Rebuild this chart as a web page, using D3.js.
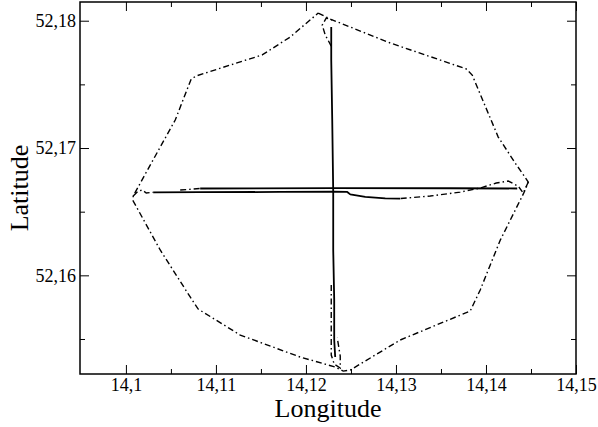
<!DOCTYPE html>
<html>
<head>
<meta charset="utf-8">
<script src="https://cdn.jsdelivr.net/npm/d3@7"></script>
<style>
  body { margin: 0; background: #fff; }
</style>
</head>
<body>
<div id="chart"></div>
<script>
// flight track around the site (dash-dot), [longitude, latitude]
const trackOctagon = [
  [14.12136, 52.18060], [14.12270, 52.18013], [14.12936, 52.17825], [14.13492, 52.17691],
  [14.13781, 52.17621], [14.13847, 52.17573], [14.14136, 52.17086], [14.14325, 52.16882],
  [14.14470, 52.16733], [14.14425, 52.16654], [14.14159, 52.16277], [14.13936, 52.15885],
  [14.13825, 52.15720], [14.13047, 52.15492], [14.12492, 52.15256], [14.12414, 52.15248],
  [14.12325, 52.15280], [14.11937, 52.15358], [14.11270, 52.15531], [14.10803, 52.15735],
  [14.10714, 52.15830], [14.10381, 52.16199], [14.10081, 52.16584], [14.10081, 52.16623],
  [14.10270, 52.16866], [14.10548, 52.17220], [14.10725, 52.17542], [14.10781, 52.17566],
  [14.11159, 52.17652], [14.11514, 52.17731], [14.11825, 52.17872], [14.12136, 52.18060]
];
const loopTop = [
  [14.12281, 52.17801], [14.12214, 52.17888], [14.12181, 52.17966], [14.12225, 52.18021], [14.12292, 52.18005]
];
const loopBottom = [
  [14.12281, 52.15924], [14.12281, 52.15374], [14.12314, 52.15303], [14.12381, 52.15272],
  [14.12381, 52.15366], [14.12348, 52.15508]
];
const loopRight = [
  [14.14470, 52.16733], [14.14414, 52.16647], [14.14359, 52.16700], [14.14247, 52.16741],
  [14.14114, 52.16725], [14.13936, 52.16686], [14.13714, 52.16654], [14.13381, 52.16623],
  [14.13047, 52.16603]
];
const loopLeft = [
  [14.10081, 52.16623], [14.10137, 52.16662], [14.10181, 52.16670], [14.10226, 52.16647], [14.10303, 52.16652]
];
const leadIn = [[14.10603, 52.16670], [14.10825, 52.16682]];

// measurement lines (solid)
const lineNS = [
  [14.12281, 52.17950], [14.12281, 52.17691], [14.12292, 52.17220], [14.12303, 52.16654],
  [14.12303, 52.16199], [14.12314, 52.15806], [14.12314, 52.15492], [14.12325, 52.15358]
];
const lineEW1 = [
  [14.10825, 52.16682], [14.12303, 52.16685], [14.13603, 52.16684], [14.14347, 52.16682]
];
const lineEW2 = [
  [14.10303, 52.16652], [14.10825, 52.16653], [14.11714, 52.16655], [14.12303, 52.16657],
  [14.12459, 52.16655], [14.12492, 52.16636], [14.12659, 52.16617], [14.12881, 52.16605],
  [14.13047, 52.16603]
];

const xMajor = [14.10, 14.11, 14.12, 14.13, 14.14, 14.15];
const xMinor = [14.105, 14.115, 14.125, 14.135, 14.145];
const yMajor = [52.16, 52.17, 52.18];
const yMinor = [52.155, 52.165, 52.175];

const width = 598, height = 427;
const margin = { top: 2, right: 22, bottom: 53, left: 80 };
const w = width - margin.left - margin.right;
const h = height - margin.top - margin.bottom;
const serif = "'Liberation Serif', 'Times New Roman', serif";

const locale = d3.formatLocale({ decimal: ",", thousands: ".", grouping: [3], currency: ["", ""] });
const fmt = locale.format("~g");

const x = d3.scaleLinear().domain([14.0949, 14.15]).range([0, w]);
const y = d3.scaleLinear().domain([52.15225, 52.18147]).range([h, 0]);

const svg = d3.select("#chart").append("svg")
  .attr("width", width)
  .attr("height", height);

const g = svg.append("g").attr("transform", `translate(${margin.left},${margin.top})`);

g.append("clipPath").attr("id", "clip")
  .append("rect").attr("width", w).attr("height", h);

// axes, ticks pointing inward on all four sides
function styleAxis(sel) {
  sel.attr("font-family", null);
  sel.select(".domain").remove();
  sel.selectAll(".tick line").attr("stroke", "#000").attr("stroke-width", 1);
  sel.selectAll(".tick text")
    .style("font-family", serif)
    .style("font-size", "18px")
    .attr("fill", "#000");
}

g.append("g").attr("transform", `translate(0,${h})`)
  .call(d3.axisBottom(x).tickValues(xMajor).tickFormat(fmt).tickSize(-9).tickPadding(4))
  .call(styleAxis);
g.append("g").attr("transform", `translate(0,${h})`)
  .call(d3.axisBottom(x).tickValues(xMinor).tickFormat("").tickSize(-5))
  .call(styleAxis);
g.append("g")
  .call(d3.axisTop(x).tickValues(xMajor).tickFormat("").tickSize(-9))
  .call(styleAxis);
g.append("g")
  .call(d3.axisTop(x).tickValues(xMinor).tickFormat("").tickSize(-5))
  .call(styleAxis);

g.append("g")
  .call(d3.axisLeft(y).tickValues(yMajor).tickFormat(fmt).tickSize(-9).tickPadding(4))
  .call(styleAxis);
g.append("g")
  .call(d3.axisLeft(y).tickValues(yMinor).tickFormat("").tickSize(-5))
  .call(styleAxis);
g.append("g").attr("transform", `translate(${w},0)`)
  .call(d3.axisRight(y).tickValues(yMajor).tickFormat("").tickSize(-9))
  .call(styleAxis);
g.append("g").attr("transform", `translate(${w},0)`)
  .call(d3.axisRight(y).tickValues(yMinor).tickFormat("").tickSize(-5))
  .call(styleAxis);

const line = d3.line().x(d => x(d[0])).y(d => y(d[1]));

const plot = g.append("g").attr("clip-path", "url(#clip)");

plot.selectAll("path.track")
  .data([trackOctagon, loopTop, loopBottom, loopRight, loopLeft, leadIn])
  .enter().append("path")
  .attr("class", "track")
  .attr("d", line)
  .attr("fill", "none")
  .attr("stroke", "#000")
  .attr("stroke-width", 1.4)
  .attr("stroke-dasharray", "6,3,1.5,3");

plot.selectAll("path.meas")
  .data([lineNS, lineEW1, lineEW2])
  .enter().append("path")
  .attr("class", "meas")
  .attr("d", line)
  .attr("fill", "none")
  .attr("stroke", "#000")
  .attr("stroke-width", 1.8)
  .attr("stroke-linejoin", "round");

g.append("rect")
  .attr("width", w).attr("height", h)
  .attr("fill", "none").attr("stroke", "#000").attr("stroke-width", 1.5);

svg.append("text")
  .attr("x", margin.left + w / 2)
  .attr("y", 417)
  .attr("text-anchor", "middle")
  .style("font-family", serif)
  .style("font-size", "26px")
  .text("Longitude");

svg.append("text")
  .attr("transform", `translate(28,${margin.top + 186}) rotate(-90)`)
  .attr("text-anchor", "middle")
  .style("font-family", serif)
  .style("font-size", "26px")
  .text("Latitude");
</script>
</body>
</html>
